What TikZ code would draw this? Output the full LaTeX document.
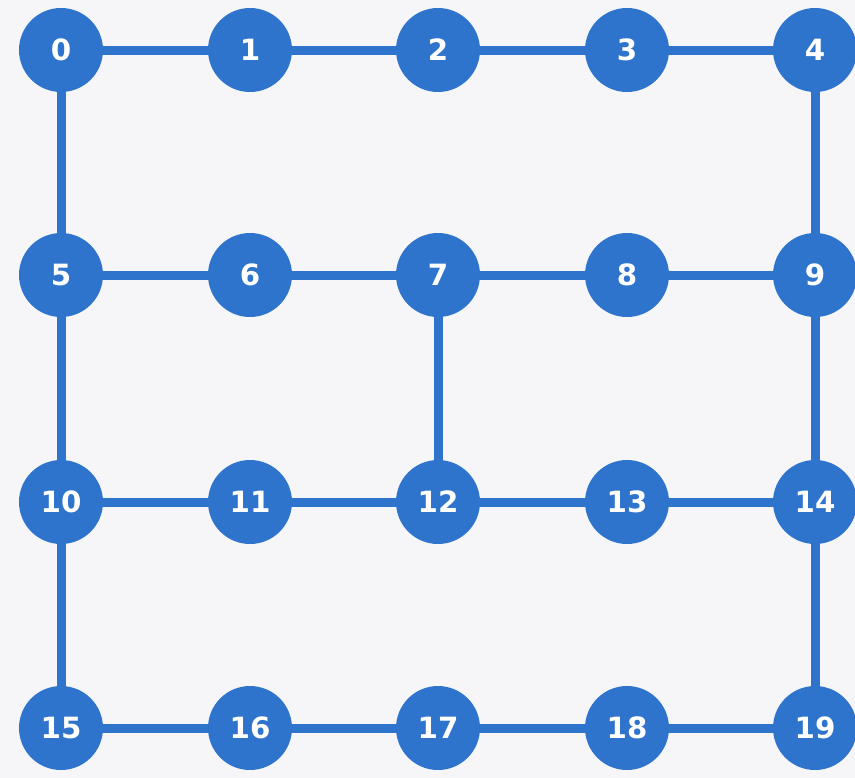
\documentclass[tikz,border=0pt]{standalone}
\usepackage{fontspec}
\setmainfont{DejaVu Sans}
\definecolor{nodeblue}{HTML}{2E74CD}
\definecolor{bggray}{HTML}{F6F6F8}
\begin{document}
\begin{tikzpicture}[x=0.03cm,y=-0.03cm,
  vtx/.style={circle,fill=nodeblue,draw=none,minimum size=2.52cm,inner sep=0pt,text=white,font=\bfseries\fontsize{25}{25}\selectfont},
  edge/.style={draw=nodeblue,line width=0.27cm}]
\fill[bggray] (0,0) rectangle (855,778);
\useasboundingbox (0,0) rectangle (855,778);
\foreach \i/\x/\y in {0/61/50,1/250/50,2/438/50,3/627/50,4/815/50,
  5/61/275,6/250/275,7/438/275,8/627/275,9/815/275,
  10/61/502,11/250/502,12/438/502,13/627/502,14/815/502,
  15/61/728,16/250/728,17/438/728,18/627/728,19/815/728}
  \coordinate (c\i) at (\x,\y);
\foreach \a/\b in {0/1,1/2,2/3,3/4,0/5,4/9,5/6,6/7,7/8,8/9,5/10,7/12,9/14,
  10/11,11/12,12/13,13/14,10/15,14/19,15/16,16/17,17/18,18/19}
  \draw[edge] (c\a) -- (c\b);
\foreach \i in {0,...,19}
  \node[vtx] (n\i) at (c\i) {\i};
\end{tikzpicture}
\end{document}
